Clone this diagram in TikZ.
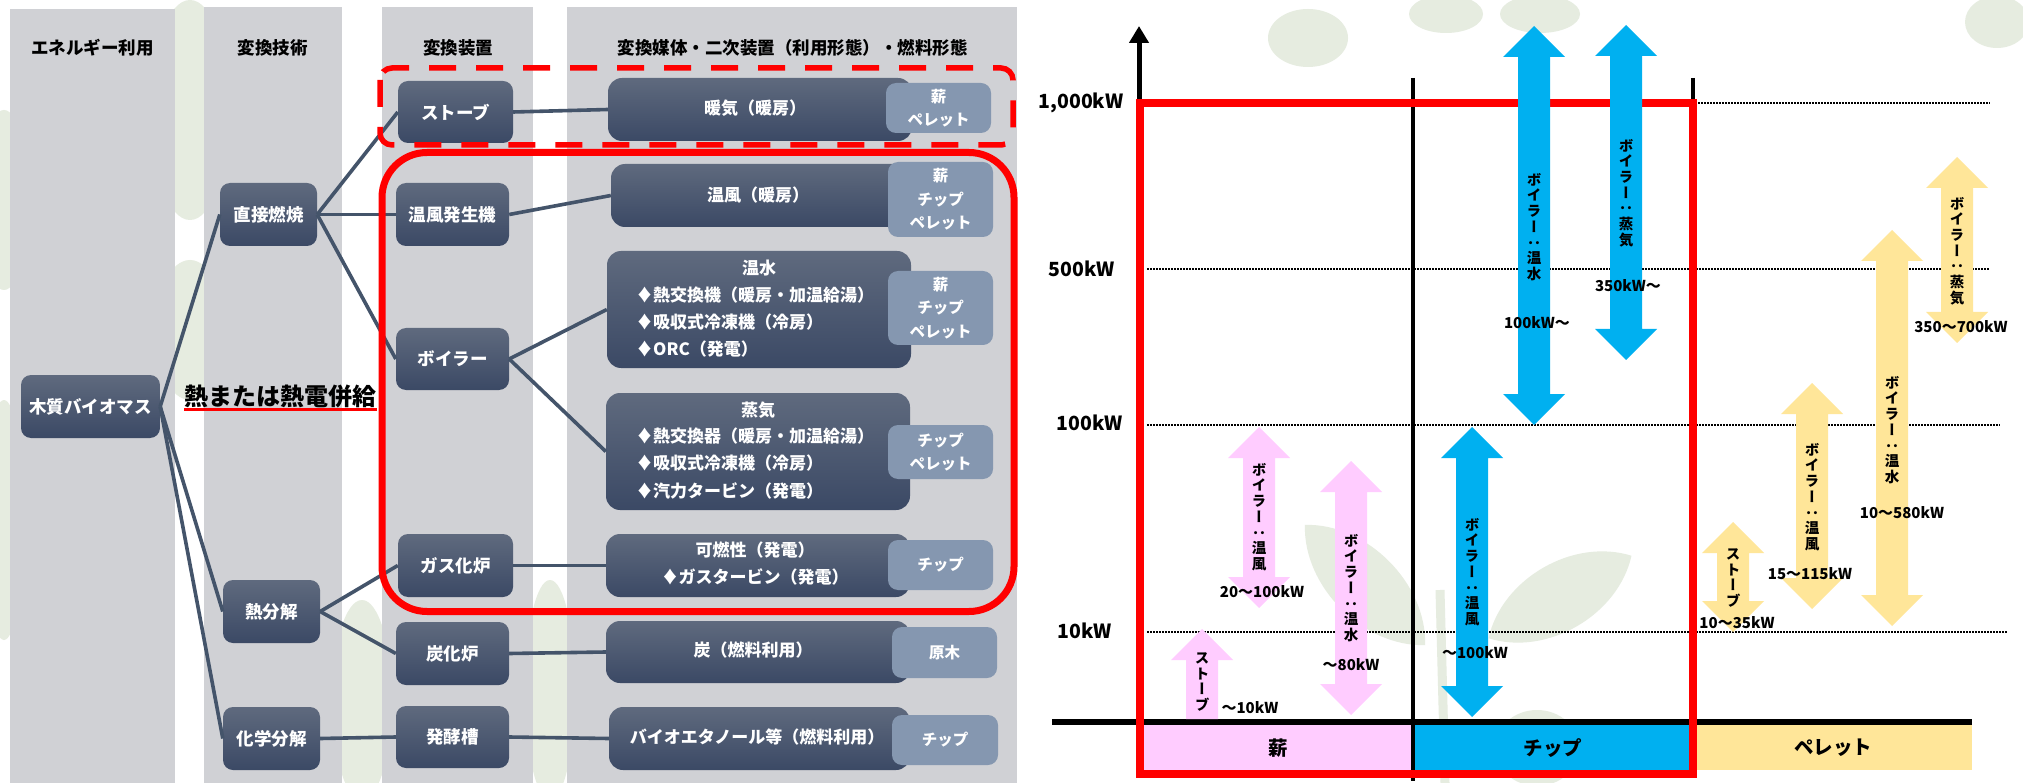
\documentclass[tikz,border=0pt]{standalone}
\usepackage{fontspec}
\setmainfont{Noto Sans CJK JP}
\newfontfamily\jpv{Noto Sans CJK JP}[RawFeature=+vert]
\usepackage{graphicx}
\usetikzlibrary{arrows.meta}
\definecolor{colgray}{HTML}{D0D1D5}
\definecolor{ntop}{HTML}{5F6A7E}
\definecolor{nbot}{HTML}{3B4965}
\definecolor{tagc}{HTML}{8597B0}
\definecolor{linkc}{HTML}{44546A}
\definecolor{redc}{HTML}{FF0000}
\definecolor{pinkc}{HTML}{FFCCFF}
\definecolor{cyanc}{HTML}{00B0F0}
\definecolor{yelc}{HTML}{FFE699}
\definecolor{leafc}{HTML}{E6ECE0}
\newcommand\dblarr[4]{\fill[#1] (#2,#3) -- ({#2+31},{#3+31}) -- ({#2+16},{#3+31}) -- ({#2+16},{#4-31}) -- ({#2+31},{#4-31}) -- (#2,#4) -- ({#2-31},{#4-31}) -- ({#2-16},{#4-31}) -- ({#2-16},{#3+31}) -- ({#2-31},{#3+31}) -- cycle;}
\newcommand\leafshape[5]{\begin{scope}[shift={(#1,#2)}, rotate=#5]\fill[leafc] ({-#3/2},0) .. controls ({-#3/4},{#4}) and ({#3/4},{#4}) .. ({#3/2},0) .. controls ({#3/4},{-#4}) and ({-#3/4},{-#4}) .. ({-#3/2},0) -- cycle;\end{scope}}
\begin{document}
\begin{tikzpicture}[x=1pt,y=-1pt,
  hdr/.style={font=\bfseries\fontsize{17.5}{20}\selectfont, text=black, inner sep=0},
  dnode/.style={rounded corners=10pt, top color=ntop, bottom color=nbot, draw=none, text=white, font=\bfseries\fontsize{17.5}{20}\selectfont, inner sep=0, align=center},
  bnode/.style={rounded corners=14pt, top color=ntop, bottom color=nbot, draw=none, inner sep=0},
  btxt/.style={text=white, font=\bfseries\fontsize{17}{27}\selectfont, inner sep=0},
  tagn/.style={fill=tagc, rounded corners=10pt, text=white, font=\bfseries\fontsize{15.5}{23.5}\selectfont, inner sep=0, align=center},
  link/.style={draw=linkc, line width=3.6pt},
  dotline/.style={line width=1.5pt, dash pattern=on 1.5pt off 1.5pt},
  vlab/.style={font=\jpv\bfseries\fontsize{14.5}{15.7}\selectfont, align=center, inner sep=0, text=black},
  klab/.style={font=\bfseries\fontsize{15}{18}\selectfont, inner sep=0, text=black},
  alab/.style={font=\bfseries\fontsize{19.5}{22}\selectfont, inner sep=0, text=black},
  clab/.style={font=\bfseries\fontsize{19.5}{22}\selectfont, inner sep=0, text=black}]
\useasboundingbox (0,0) rectangle (2023,783);
\fill[white] (0,0) rectangle (2023,783);
% background leaves
\fill[leafc] (190,110) ellipse (40 and 110);
\fill[leafc] (190,330) ellipse (35 and 70);
\fill[leafc] (4,200) ellipse (25 and 90);
\fill[leafc] (4,520) ellipse (20 and 120);
\fill[leafc] (362,700) ellipse (30 and 100);
\fill[leafc] (550,690) ellipse (25 and 110);
\fill[leafc] (1308,38) ellipse (40 and 29);
\fill[leafc] (1446,14) ellipse (37 and 19);
\fill[leafc] (1540,14) ellipse (40 and 19);
\fill[leafc] (1997,22) ellipse (32 and 26);
\leafshape{1365}{585}{170}{45}{-45}
\leafshape{1560}{597}{165}{45}{30}
\draw[leafc, line width=9pt] (1440,590) -- (1445,783);
\fill[leafc] (1537,748) ellipse (42 and 38);
% columns
\fill[colgray] (10,9) rectangle (175,783);
\fill[colgray] (204,7) rectangle (342,783);
\fill[colgray] (382,7) rectangle (533,783);
\fill[colgray] (567,7) rectangle (1017,783);
\node[hdr] (h1) at (92.5,48) {エネルギー利用};
\node[hdr] (h2) at (272.5,48) {変換技術};
\node[hdr] (h3) at (458,48) {変換装置};
\node[hdr] (h4) at (792.5,48) {変換媒体・二次装置（利用形態）・燃料形態};
% left nodes
\node[dnode, minimum width=139pt, minimum height=63pt] (bio) at (90.5,406.5) {木質バイオマス};
\node[dnode, minimum width=97pt, minimum height=63pt] (tyoku) at (268.5,214.5) {直接燃焼};
\node[dnode, minimum width=97pt, minimum height=63pt] (netsu) at (271.5,611.5) {熱分解};
\node[dnode, minimum width=97pt, minimum height=63pt] (kagaku) at (271.5,738.5) {化学分解};
\node[dnode, minimum width=115pt, minimum height=62pt] (stove) at (455.5,112) {ストーブ};
\node[dnode, minimum width=113pt, minimum height=63pt] (onpu) at (452.5,214.5) {温風発生機};
\node[dnode, minimum width=113pt, minimum height=62pt] (boiler) at (452.5,359) {ボイラー};
\node[dnode, minimum width=115pt, minimum height=63pt] (gas) at (455.5,565.5) {ガス化炉};
\node[dnode, minimum width=113pt, minimum height=63pt] (tanka) at (452.5,653.5) {炭化炉};
\node[dnode, minimum width=113pt, minimum height=62pt] (hakko) at (452.5,737) {発酵槽};
% col4 boxes
\node[bnode, minimum width=304pt, minimum height=63pt] (b1) at (760,109.5) {};
\node[bnode, minimum width=299pt, minimum height=63pt] (b2) at (760.5,195.5) {};
\node[bnode, minimum width=304pt, minimum height=117pt] (b3) at (759,309.5) {};
\node[bnode, minimum width=304pt, minimum height=117pt] (b4) at (758,451.5) {};
\node[bnode, minimum width=304pt, minimum height=63pt] (b5) at (758,565.5) {};
\node[bnode, minimum width=304pt, minimum height=62pt] (b6) at (758,652) {};
\node[bnode, minimum width=301pt, minimum height=63pt] (b7) at (759.5,738.5) {};
\node[btxt] (t1) at (755,108) {暖気（暖房）};
\node[btxt] (t2) at (758,195) {温風（暖房）};
\node[btxt] (t3a) at (759,268) {温水};
\node[btxt, anchor=west] (t3b) at (636,295) {♦熱交換機（暖房・加温給湯）};
\node[btxt, anchor=west] (t3c) at (636,322) {♦吸収式冷凍機（冷房）};
\node[btxt, anchor=west] (t3d) at (636,349) {♦ORC（発電）};
\node[btxt] (t4a) at (758,410) {蒸気};
\node[btxt, anchor=west] (t4b) at (636,436) {♦熱交換器（暖房・加温給湯）};
\node[btxt, anchor=west] (t4c) at (636,463) {♦吸収式冷凍機（冷房）};
\node[btxt, anchor=west] (t4d) at (636,491) {♦汽力タービン（発電）};
\node[btxt] (t5a) at (755,550) {可燃性（発電）};
\node[btxt] (t5b) at (755,577) {♦ガスタービン（発電）};
\node[btxt] (t6) at (753,650) {炭（燃料利用）};
\node[btxt] (t7) at (757,737) {バイオエタノール等（燃料利用）};
% tags
\node[tagn, minimum width=105pt, minimum height=50pt] (g1) at (938.5,108) {薪\\ペレット};
\node[tagn, minimum width=105pt, minimum height=75pt] (g2) at (940.5,199.5) {薪\\チップ\\ペレット};
\node[tagn, minimum width=105pt, minimum height=74pt] (g3) at (940.5,308) {薪\\チップ\\ペレット};
\node[tagn, minimum width=105pt, minimum height=54pt] (g4) at (940.5,452) {チップ\\ペレット};
\node[tagn, minimum width=105pt, minimum height=50pt] (g5) at (940.5,565) {チップ};
\node[tagn, minimum width=105pt, minimum height=51pt] (g6) at (944.5,652.5) {原木};
\node[tagn, minimum width=106pt, minimum height=50pt] (g7) at (945,740) {チップ};
% connectors
\draw[link] (bio.east) -- (tyoku.west);
\draw[link] (bio.east) -- (netsu.west);
\draw[link] (bio.east) -- (kagaku.west);
\draw[link] (tyoku.east) -- (stove.west);
\draw[link] (tyoku.east) -- (onpu.west);
\draw[link] (tyoku.east) -- (boiler.west);
\draw[link] (netsu.east) -- (gas.west);
\draw[link] (netsu.east) -- (tanka.west);
\draw[link] (kagaku.east) -- (hakko.west);
\draw[link] (stove.east) -- (b1.west);
\draw[link] (onpu.east) -- (b2.west);
\draw[link] (boiler.east) -- (b3.west);
\draw[link] (boiler.east) -- (b4.west);
\draw[link] (gas.east) -- (b5.west);
\draw[link] (tanka.east) -- (b6.west);
\draw[link] (hakko.east) -- (b7.west);
% red frames
\draw[redc, line width=5.5pt, dash pattern=on 27pt off 20pt, rounded corners=12pt] (380,68) rectangle (1013,145);
\draw[redc, line width=7pt, rounded corners=45pt] (382,152.5) rectangle (1014,611.5);
\node[font=\bfseries\fontsize{24}{26}\selectfont, inner sep=0] (heat) at (280.5,396) {熱または熱電併給};
\draw[redc, line width=2.5pt] (heat.south west) ++(0,2) coordinate (ul1) -- (heat.south east |- ul1);
% ===== chart =====
\draw[dotline] (1698,103) -- (1990,103);
\draw[dotline] (1147,269) -- (1990,269);
\draw[dotline] (1147,425) -- (2000,425);
\draw[dotline] (1147,632) -- (2007,632);
\node[alab] (l1000) at (1081,103) {1,000kW};
\node[alab] (l500) at (1082,269) {500kW};
\node[alab] (l100) at (1090,423) {100kW};
\node[alab] (l10) at (1085,631) {10kW};
\fill[pinkc] (1144,725) rectangle (1413,770);
\fill[cyanc] (1413,725) rectangle (1690,770);
\fill[yelc] (1697,725) rectangle (1972,770);
\node[clab] (cm) at (1278,748) {薪};
\node[clab] (cc) at (1553,748) {チップ};
\node[clab] (cp) at (1833,748) {ペレット};
\coordinate (yb) at (1139,725);
\coordinate (yt) at (1139,26);
\draw[line width=5pt, -{Triangle[length=17pt,width=19pt]}] (yb) -- (yt);
\coordinate (xa) at (1052,722);
\coordinate (xb) at (1972,722);
\draw[line width=5.5pt] (xa) -- (xb);
\draw[line width=3.5pt] (1413,78) -- (1413,781);
\draw[line width=3.5pt] (1693,78) -- (1693,110);
\draw[redc, line width=8pt] (1140,103) rectangle (1692.5,774);
% arrows
\fill[pinkc] (1202,629) -- (1233,660) -- (1218,660) -- (1218,719) -- (1186,719) -- (1186,660) -- (1171,660) -- cycle;
\dblarr{pinkc}{1259}{427}{608}
\dblarr{pinkc}{1351}{461}{715}
\dblarr{cyanc}{1472}{427}{717}
\dblarr{cyanc}{1534}{26}{425}
\dblarr{cyanc}{1626}{25}{360}
\dblarr{yelc}{1733}{522}{632}
\dblarr{yelc}{1812}{383}{609}
\dblarr{yelc}{1892}{230}{626}
\dblarr{yelc}{1957}{157}{343}
\node[vlab] (v1) at (1202,682) {ス\\ト\\ー\\ブ};
\node[vlab] (v2) at (1259,517) {ボ\\イ\\ラ\\ー\\：\\温\\風};
\node[vlab] (v3) at (1351,588) {ボ\\イ\\ラ\\ー\\：\\温\\水};
\node[vlab] (v4) at (1472,572) {ボ\\イ\\ラ\\ー\\：\\温\\風};
\node[vlab] (v5) at (1534,227) {ボ\\イ\\ラ\\ー\\：\\温\\水};
\node[vlab] (v6) at (1626,193) {ボ\\イ\\ラ\\ー\\：\\蒸\\気};
\node[vlab] (v7) at (1733,578) {ス\\ト\\ー\\ブ};
\node[vlab] (v8) at (1812,497) {ボ\\イ\\ラ\\ー\\：\\温\\風};
\node[vlab] (v9) at (1892,430) {ボ\\イ\\ラ\\ー\\：\\温\\水};
\node[vlab] (v10) at (1957,251) {ボ\\イ\\ラ\\ー\\：\\蒸\\気};
\node[klab] (k1) at (1250,708) {～10kW};
\node[klab] (k2) at (1262,592) {20～100kW};
\node[klab] (k3) at (1351,665) {～80kW};
\node[klab] (k4) at (1475,653) {～100kW};
\node[klab] (k5) at (1537,323) {100kW～};
\node[klab] (k6) at (1628,286) {350kW～};
\node[klab] (k7) at (1961,327) {350～700kW};
\node[klab] (k8) at (1902,513) {10～580kW};
\node[klab] (k9) at (1810,574) {15～115kW};
\node[klab] (k10) at (1737,623) {10～35kW};
\end{tikzpicture}
\end{document}
